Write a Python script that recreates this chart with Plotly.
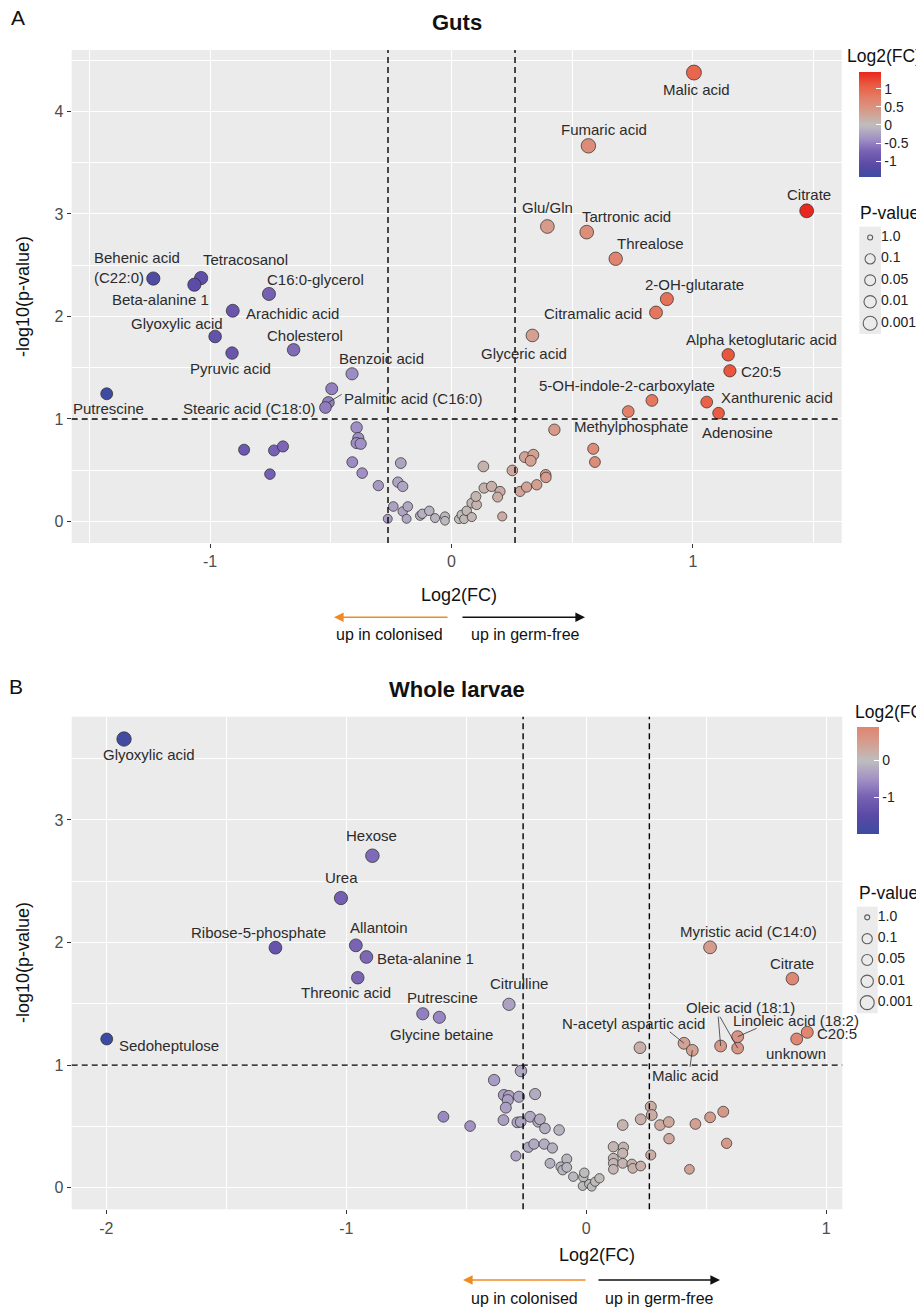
import numpy as np
import plotly.graph_objects as go

# ---------------- DATA ----------------
# Guts panel: labelled metabolites
guts_lab_names = ["Behenic acid<br>(C22:0)", "Tetracosanol", "Beta-alanine 1", "C16:0-glycerol",
                  "Arachidic acid", "Glyoxylic acid", "Pyruvic acid", "Cholesterol", "Benzoic acid",
                  "Palmitic acid (C16:0)", "Stearic acid (C18:0)", "Putrescine", "Malic acid",
                  "Fumaric acid", "Citrate", "Glu/Gln", "Tartronic acid", "Threalose", "2-OH-glutarate",
                  "Citramalic acid", "Glyceric acid", "Alpha ketoglutaric acid", "C20:5",
                  "5-OH-indole-2-carboxylate", "Xanthurenic acid", "Adenosine", "Methylphosphate"]
guts_lab_fc = [-1.235, -1.037, -1.065, -0.756, -0.906, -0.979, -0.909, -0.654, -0.412,
               -0.510, -0.522, -1.428, 1.004, 0.567, 1.471, 0.397, 0.560, 0.680, 0.892,
               0.847, 0.335, 1.146, 1.153, 0.830, 1.057, 1.106, 0.732]
guts_lab_logp = [2.37, 2.375, 2.31, 2.22, 2.056, 1.805, 1.643, 1.675, 1.441,
                 1.161, 1.112, 1.246, 4.38, 3.665, 3.031, 2.878, 2.823, 2.563, 2.170,
                 2.039, 1.815, 1.626, 1.470, 1.181, 1.165, 1.057, 1.073]
# Guts panel: unlabelled metabolites
guts_oth_fc = [-0.496, -0.859, -0.735, -0.698, -0.752, -0.393, -0.386, -0.393, -0.376, -0.411,
               -0.370, -0.303, -0.264, -0.210, -0.222, -0.202, -0.241, -0.202, -0.181, -0.186,
               -0.130, -0.121, -0.092, -0.068, -0.027, -0.027, 0.031, 0.042, 0.052, 0.063,
               0.084, 0.084, 0.104, 0.101, 0.132, 0.135, 0.166, 0.201, 0.191, 0.210,
               0.252, 0.304, 0.339, 0.328, 0.284, 0.311, 0.353, 0.390, 0.391, 0.426,
               0.587, 0.594]
guts_oth_logp = [1.295, 0.70, 0.693, 0.732, 0.462, 0.917, 0.813, 0.765, 0.758, 0.579,
                 0.472, 0.350, 0.026, 0.570, 0.384, 0.342, 0.146, 0.098, 0.146, 0.026,
                 0.056, 0.075, 0.104, 0.033, 0.049, 0.007, 0.023, 0.065, 0.023, 0.104,
                 0.043, 0.18, 0.163, 0.244, 0.537, 0.326, 0.342, 0.293, 0.238, 0.049,
                 0.498, 0.628, 0.651, 0.592, 0.293, 0.336, 0.358, 0.456, 0.43, 0.895,
                 0.709, 0.58]

# Whole larvae panel: labelled metabolites
larv_lab_names = ["Glyoxylic acid", "Sedoheptulose", "Hexose", "Urea", "Ribose-5-phosphate",
                  "Allantoin", "Beta-alanine 1", "Threonic acid", "Putrescine", "Glycine betaine",
                  "Citrulline", "Myristic acid (C14:0)", "Citrate", "N-acetyl aspartic acid",
                  "Malic acid", "Oleic acid (18:1)", "Linoleic acid (18:2)", "C20:5", "unknown"]
larv_lab_fc = [-1.926, -1.998, -0.891, -1.022, -1.295, -0.960, -0.916, -0.952, -0.681, -0.612,
               -0.322, 0.516, 0.859, 0.4075, 0.442, 0.560, 0.631, 0.921, 0.877]
larv_lab_logp = [3.66, 1.213, 2.708, 2.363, 1.958, 1.977, 1.882, 1.713, 1.419, 1.390,
                 1.496, 1.961, 1.705, 1.178, 1.121, 1.156, 1.232, 1.268, 1.213]
# Whole larvae panel: unlabelled metabolites
larv_oth_fc = [0.224, 0.631, -0.595, -0.484, -0.384, -0.272, -0.343, -0.322, -0.327, -0.280,
               -0.335, -0.213, -0.345, -0.287, -0.273, -0.234, -0.200, -0.193, -0.172, -0.113,
               -0.293, -0.241, -0.218, -0.175, -0.141, -0.151, -0.106, -0.098, -0.081, -0.081,
               -0.054, -0.012, -0.008, -0.015, 0.012, 0.023, 0.037, 0.055, 0.113, 0.155,
               0.152, 0.113, 0.152, 0.113, 0.113, 0.152, 0.190, 0.194, 0.227, 0.227,
               0.269, 0.273, 0.269, 0.3075, 0.344, 0.345, 0.430, 0.455, 0.516, 0.571,
               0.585]
larv_oth_logp = [1.142, 1.139, 0.579, 0.503, 0.878, 0.952, 0.756, 0.748, 0.715, 0.742,
                 0.653, 0.764, 0.552, 0.533, 0.536, 0.579, 0.538, 0.558, 0.484, 0.471,
                 0.259, 0.330, 0.356, 0.356, 0.324, 0.199, 0.171, 0.144, 0.234, 0.166,
                 0.090, 0.085, 0.122, 0.014, 0.030, 0.008, 0.049, 0.077, 0.334, 0.330,
                 0.281, 0.240, 0.511, 0.199, 0.150, 0.199, 0.193, 0.158, 0.177, 0.558,
                 0.661, 0.593, 0.267, 0.511, 0.536, 0.400, 0.150, 0.520, 0.574, 0.620,
                 0.362]

guts_xticks = [-1, 0, 1]
guts_yticks = [0, 1, 2, 3, 4]
larv_xticks = [-2, -1, 0, 1]
larv_yticks = [0, 1, 2, 3]
pvalue_breaks = [1.0, 0.1, 0.05, 0.01, 0.001]
pvalue_labels = ["1.0", "0.1", "0.05", "0.01", "0.001"]
fc_threshold = 1.2
p_threshold = 0.1

# ---------------- LABEL PLACEMENT (data units) ----------------
guts_label_pos = {
    "Behenic acid<br>(C22:0)": (-1.304, 2.479), "Tetracosanol": (-0.855, 2.553),
    "Beta-alanine 1": (-1.207, 2.170), "C16:0-glycerol": (-0.565, 2.358),
    "Arachidic acid": (-0.658, 2.026), "Glyoxylic acid": (-1.135, 1.936),
    "Pyruvic acid": (-0.914, 1.490), "Cholesterol": (-0.607, 1.812),
    "Benzoic acid": (-0.289, 1.587), "Palmitic acid (C16:0)": (-0.161, 1.195),
    "Stearic acid (C18:0)": (-0.838, 1.106), "Putrescine": (-1.419, 1.106),
    "Malic acid": (1.015, 4.212), "Fumaric acid": (0.631, 3.822), "Citrate": (1.480, 3.194),
    "Glu/Gln": (0.397, 3.067), "Tartronic acid": (0.725, 2.976), "Threalose": (0.825, 2.716),
    "2-OH-glutarate": (1.005, 2.309), "Citramalic acid": (0.585, 2.026),
    "Glyceric acid": (0.300, 1.636), "Alpha ketoglutaric acid": (1.282, 1.780),
    "C20:5": (1.282, 1.463), "5-OH-indole-2-carboxylate": (0.728, 1.331),
    "Xanthurenic acid": (1.347, 1.210), "Methylphosphate": (0.743, 0.927),
    "Adenosine": (1.185, 0.868),
}
guts_connectors = [((-0.455, 1.24), "Palmitic acid (C16:0)")]

larv_label_pos = {
    "Glyoxylic acid": (-1.823, 3.535), "Hexose": (-0.894, 2.869), "Urea": (-1.019, 2.529),
    "Ribose-5-phosphate": (-1.366, 2.083), "Allantoin": (-0.862, 2.121),
    "Beta-alanine 1": (-0.668, 1.871), "Threonic acid": (-1.002, 1.594),
    "Putrescine": (-0.601, 1.553), "Glycine betaine": (-0.605, 1.246),
    "Sedoheptulose": (-1.740, 1.158), "Citrulline": (-0.279, 1.667),
    "Myristic acid (C14:0)": (0.675, 2.088), "Citrate": (0.856, 1.830),
    "Oleic acid (18:1)": (0.644, 1.471), "N-acetyl aspartic acid": (0.199, 1.341),
    "Linoleic acid (18:2)": (0.874, 1.362), "C20:5": (1.044, 1.259),
    "unknown": (0.873, 1.091), "Malic acid": (0.415, 0.919),
}
larv_connectors = [((0.348, 1.272), "N-acetyl aspartic acid"),
                   ((0.4325, 0.987), "Malic acid"),
                   ((0.550, 1.395), "Oleic acid (18:1)"),
                   ((0.557, 1.395), ("other", 1)),
                   ((0.710, 1.300), "Linoleic acid (18:2)")]

# ---------------- HELPERS ----------------
# The page body has an 8px default margin: figure pixel = window pixel - 8
OFF = 8
W, H = 916, 1305
FONT = "Liberation Sans, Arial, Helvetica, sans-serif"


def PX(p):
    return (p - OFF) / W


def PY(p):
    return 1 - (p - OFF) / H


stops_t = [-1.0, -0.75, -0.5, -0.25, 0.0, 0.25, 0.5, 0.75, 1.0]
stops_c = ["#3B4BA0", "#5A4AA6", "#7660B2", "#A291C6", "#BEBEBE",
           "#D59D8E", "#E2806A", "#E95C43", "#E8271E"]


def hex2rgb(h):
    return np.array([int(h[i:i + 2], 16) for i in (1, 3, 5)], dtype=float)


def grad_color(v, lim):
    t = np.clip(v / lim, -1, 1)
    rgb = [np.interp(t, stops_t, [hex2rgb(c)[k] for c in stops_c]) for k in range(3)]
    return "rgb(%d,%d,%d)" % tuple(int(round(x)) for x in rgb)


def colorscale(vmin, vmax):
    lim = max(abs(vmin), abs(vmax))
    return [[s, grad_color(vmin + s * (vmax - vmin), lim)] for s in np.linspace(0, 1, 41)]


def pt_size(y):
    return 8.5 + 3.1 * np.sqrt(np.maximum(np.asarray(y, dtype=float), 0))


def key_size(p):
    return 5 + 5.2 * np.sqrt(-np.log10(np.asarray(p, dtype=float)))


fig = go.Figure()

vline = np.log2(fc_threshold)
hline = -np.log10(p_threshold)


def add_panel(lab_names, lab_fc, lab_logp, oth_fc, oth_logp, label_pos, connectors,
              xa, ya, cax):
    fc = np.array(oth_fc + lab_fc)
    lp = np.array(oth_logp + lab_logp)
    fig.add_trace(go.Scatter(
        x=fc, y=lp, mode="markers", xaxis=xa, yaxis=ya, hoverinfo="skip",
        marker=dict(size=pt_size(lp), color=fc, coloraxis=cax,
                    line=dict(color="#2a2a2a", width=0.7), opacity=1)))
    cx, cy = [], []
    for (lx, ly), who in connectors:
        if isinstance(who, tuple):
            px_, py_ = oth_fc[who[1]], oth_logp[who[1]]
        else:
            i = lab_names.index(who)
            px_, py_ = lab_fc[i], lab_logp[i]
        cx += [lx, px_, None]
        cy += [ly, py_, None]
    if cx:
        fig.add_trace(go.Scatter(x=cx, y=cy, mode="lines", xaxis=xa, yaxis=ya,
                                 hoverinfo="skip", line=dict(color="#333333", width=0.8)))
    for nm in lab_names:
        lx, ly = label_pos[nm]
        fig.add_annotation(x=lx, y=ly, xref=xa, yref=ya, text=nm, showarrow=False,
                           align="left", font=dict(family=FONT, size=15, color="#2b2b2b"))
    dash = dict(color="black", width=1.4, dash="6px,4px")
    for v in (-vline, vline):
        fig.add_shape(type="line", xref=xa, yref=ya + " domain", x0=v, x1=v, y0=0, y1=1,
                      line=dash, layer="above")
    fig.add_shape(type="line", xref=xa + " domain", yref=ya, x0=0, x1=1, y0=hline, y1=hline,
                  line=dash, layer="above")


add_panel(guts_lab_names, guts_lab_fc, guts_lab_logp, guts_oth_fc, guts_oth_logp,
          guts_label_pos, guts_connectors, "x", "y", "coloraxis")
add_panel(larv_lab_names, larv_lab_fc, larv_lab_logp, larv_oth_fc, larv_oth_logp,
          larv_label_pos, larv_connectors, "x2", "y2", "coloraxis2")

# P-value legends (keys on small auxiliary axes)
for xa, ya in (("x3", "y3"), ("x4", "y4")):
    idx = list(range(len(pvalue_breaks)))
    fig.add_trace(go.Scatter(x=[0.5] * len(idx), y=idx, mode="markers", xaxis=xa, yaxis=ya,
                             hoverinfo="skip", cliponaxis=False,
                             marker=dict(symbol="circle-open", size=key_size(pvalue_breaks),
                                         color="#222222", line=dict(width=1.1))))
    fig.add_trace(go.Scatter(x=[1.0] * len(idx), y=idx, mode="text", xaxis=xa, yaxis=ya,
                             hoverinfo="skip", cliponaxis=False, text=pvalue_labels,
                             textposition="middle right",
                             textfont=dict(family=FONT, size=14, color="#222222")))


# ---------------- LAYOUT ----------------
def data_axis(domain, rng, anchor, ticks):
    return dict(domain=domain, range=rng, anchor=anchor, tickmode="array",
                tickvals=ticks, ticktext=[str(t) for t in ticks],
                showgrid=True, gridcolor="white", gridwidth=1.2, zeroline=False,
                minor=dict(tickmode="linear", tick0=0, dtick=0.5, showgrid=True,
                           gridcolor="white", gridwidth=0.5),
                ticks="outside", ticklen=4, tickwidth=1, tickcolor="#333333",
                tickfont=dict(family=FONT, size=16, color="#4d4d4d"), showline=False)


def cbar(top_px, len_px, left_px, tickvals):
    return dict(x=PX(left_px), xanchor="left", xpad=0, y=PY(top_px), yanchor="top", ypad=0,
                len=len_px, lenmode="pixels", thickness=21.5, thicknessmode="pixels",
                outlinewidth=0, tickvals=tickvals, ticktext=[("%g" % v) for v in tickvals],
                ticks="inside", ticklen=5, tickcolor="white", tickwidth=1,
                tickfont=dict(family=FONT, size=14, color="#222222"), title=dict(text=""))


g_all = guts_oth_fc + guts_lab_fc
l_all = larv_oth_fc + larv_lab_fc

fig.update_layout(
    width=W, height=H, autosize=False,
    margin=dict(l=0, r=0, t=0, b=0),
    paper_bgcolor="white", plot_bgcolor="#EBEBEB",
    showlegend=False,
    font=dict(family=FONT, color="#222222"),
    xaxis=data_axis([PX(71.7), PX(841.7)], [-1.573, 1.616], "y", guts_xticks),
    yaxis=data_axis([PY(543), PY(50)], [-0.21, 4.60], "x", guts_yticks),
    xaxis2=data_axis([PX(71.7), PX(842.3)], [-2.144, 1.067], "y2", larv_xticks),
    yaxis2=data_axis([PY(1209.3), PY(716.7)], [-0.176, 3.842], "x2", larv_yticks),
    xaxis3=dict(domain=[PX(859.3), PX(881)], range=[0, 1], visible=False, anchor="y3"),
    yaxis3=dict(domain=[PY(334), PY(226.7)], range=[4.5, -0.5], visible=False, anchor="x3"),
    xaxis4=dict(domain=[PX(856.7), PX(877.7)], range=[0, 1], visible=False, anchor="y4"),
    yaxis4=dict(domain=[PY(1013.3), PY(906.7)], range=[4.5, -0.5], visible=False, anchor="x4"),
    coloraxis=dict(colorscale=colorscale(min(g_all), max(g_all)), cmin=min(g_all),
                   cmax=max(g_all), colorbar=cbar(71.7, 105, 859.3, [-1, -0.5, 0, 0.5, 1])),
    coloraxis2=dict(colorscale=colorscale(min(l_all), max(l_all)), cmin=min(l_all),
                    cmax=max(l_all), colorbar=cbar(726.7, 106.6, 856.7, [-1, 0])),
)


def txt(x, y, s, size, color="#111111", bold=False, angle=0, xanchor="center"):
    fig.add_annotation(x=PX(x), y=PY(y), xref="paper", yref="paper",
                       text=(f"<b>{s}</b>" if bold else s),
                       showarrow=False, textangle=angle, xanchor=xanchor, yanchor="middle",
                       font=dict(family=FONT, size=size, color=color))


# Panel letters and titles
txt(18, 18, "A", 21)
txt(16, 686, "B", 21)
txt(456.7, 22, "Guts", 22, bold=True)
txt(457, 689, "Whole larvae", 22, bold=True)
# axis titles
txt(459.3, 595, "Log2(FC)", 18)
txt(597, 1255, "Log2(FC)", 18)
txt(23, 297, "-log10(p-value)", 18, angle=-90)
txt(23, 963, "-log10(p-value)", 18, angle=-90)
# legend titles
txt(845, 56, "Log2(FC)", 17.5, xanchor="left")
txt(858.3, 213.3, "P-value", 17.5, xanchor="left")
txt(852.7, 712, "Log2(FC)", 17.5, xanchor="left")
txt(856.7, 893.3, "P-value", 17.5, xanchor="left")


def arrow(x_head, x_tail, y, color):
    fig.add_annotation(x=PX(x_head), y=PY(y), xref="paper", yref="paper", text="",
                       showarrow=True, ax=x_tail - x_head, ay=0, arrowhead=2, arrowsize=1.2,
                       arrowwidth=1.6, arrowcolor=color, standoff=0, startstandoff=0)


ORANGE = "#F08A24"
arrow(334, 449, 617.3, ORANGE)
arrow(585, 461, 617.3, "#111111")
txt(389, 634, "up in colonised", 16)
txt(525.3, 634, "up in germ-free", 16)
arrow(463, 587, 1280, ORANGE)
arrow(720, 597, 1280, "#111111")
txt(524, 1298, "up in colonised", 16)
txt(659, 1298, "up in germ-free", 16)

fig.write_html("out.html")
